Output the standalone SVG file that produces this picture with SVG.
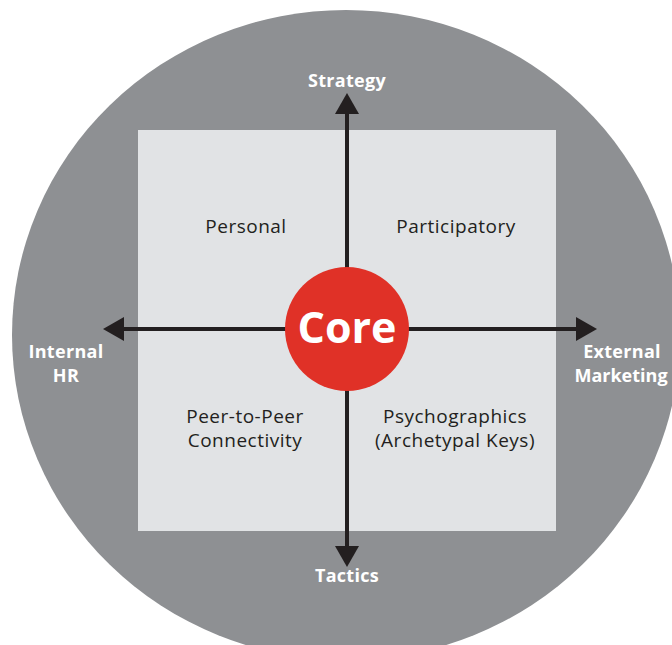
<svg xmlns="http://www.w3.org/2000/svg" width="672" height="645" viewBox="0 0 672 645">
  <defs>
    <marker id="arrow" markerUnits="userSpaceOnUse" markerWidth="22" markerHeight="24" refX="0" refY="12" orient="auto" viewBox="0 0 22 24">
      <path d="M0,0 L21,12 L0,24 z" fill="#231f20"/>
    </marker>
  </defs>
  <style>
    .axis { stroke: #231f20; stroke-width: 4; fill: none; marker-end: url(#arrow); }
    .bold { font-family: "Open Sans", "Liberation Sans", sans-serif; font-weight: 700; fill: #ffffff; font-size: 18px; text-anchor: middle; letter-spacing: 0.3px; }
    .quad { font-family: "Open Sans", "Liberation Sans", sans-serif; font-weight: 400; fill: #231f20; font-size: 19px; text-anchor: middle; letter-spacing: 0.5px; }
  </style>
  <rect width="672" height="645" fill="#ffffff"/>
  <g id="background">
    <ellipse cx="346" cy="335" rx="334" ry="325" fill="#8e9093"/>
    <rect x="138" y="130" width="418" height="401" fill="#e1e3e5"/>
  </g>
  <g id="connectors">
    <line class="axis" x1="347" y1="329" x2="347" y2="114"/>
    <line class="axis" x1="347" y1="329" x2="347" y2="546"/>
    <line class="axis" x1="347" y1="329" x2="124" y2="329"/>
    <line class="axis" x1="347" y1="329" x2="576" y2="329"/>
  </g>
  <g id="quad-personal"><text class="quad" x="246" y="233">Personal</text></g>
  <g id="quad-participatory"><text class="quad" x="456" y="233">Participatory</text></g>
  <g id="quad-peer"><text class="quad" x="245" y="423">Peer-to-Peer</text><text class="quad" x="245" y="447">Connectivity</text></g>
  <g id="quad-psycho"><text class="quad" x="455" y="423">Psychographics</text><text class="quad" x="455" y="447">(Archetypal Keys)</text></g>
  <g id="core">
    <circle cx="347" cy="329" r="62" fill="#e03127"/>
    <text x="347" y="343" font-family="'Open Sans', 'Liberation Sans', sans-serif" font-weight="700" font-size="43" fill="#ffffff" text-anchor="middle">Core</text>
  </g>
  <g id="label-strategy"><text class="bold" x="347" y="87">Strategy</text></g>
  <g id="label-tactics"><text class="bold" x="347" y="582">Tactics</text></g>
  <g id="label-internal"><text class="bold" x="66" y="358">Internal</text><text class="bold" x="66" y="382">HR</text></g>
  <g id="label-external"><text class="bold" x="622" y="358">External</text><text class="bold" x="621" y="382" style="letter-spacing:0">Marketing</text></g>
</svg>
